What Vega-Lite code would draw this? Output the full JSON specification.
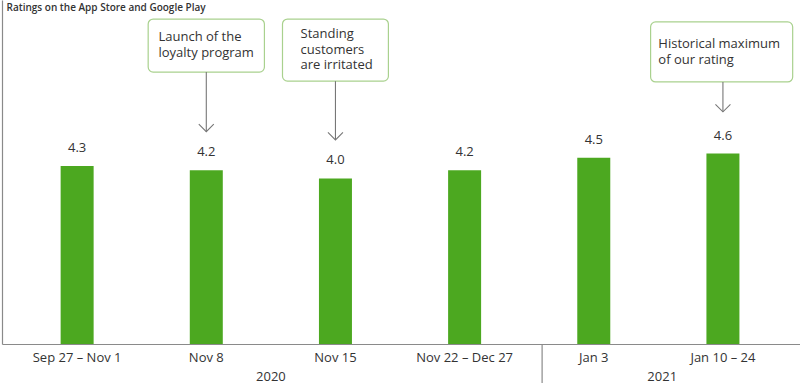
{
  "$schema": "https://vega.github.io/schema/vega-lite/v6.json",
  "width": 798,
  "height": 344,
  "autosize": {"type": "none"},
  "padding": {"left": 2, "top": 0, "right": 0, "bottom": 39},
  "background": "white",
  "config": {
    "view": {"stroke": null},
    "font": "Open Sans",
    "axis": {"grid": false, "ticks": false, "labels": false, "domainColor": "#8a8a8a", "domainWidth": 1.2}
  },
  "datasets": {
    "ratings": [
      {"idx": 0, "period": "Sep 27 – Nov 1", "rating": 4.3},
      {"idx": 1, "period": "Nov 8", "rating": 4.2},
      {"idx": 2, "period": "Nov 15", "rating": 4.0},
      {"idx": 3, "period": "Nov 22 – Dec 27", "rating": 4.2},
      {"idx": 4, "period": "Jan 3", "rating": 4.5},
      {"idx": 5, "period": "Jan 10 – 24", "rating": 4.6}
    ],
    "years": [
      {"year": "2020", "mid": 1.5},
      {"year": "2021", "mid": 4.53}
    ],
    "divider": [{"at": 3.6}],
    "notes": [
      {"idx": 1, "x0": 0.55, "x1": 1.45, "top": 7.85, "bottom": 6.57, "textx": 0.63, "texty": 7.31, "tip": 5.13, "note": "Launch of the\nloyalty program"},
      {"idx": 2, "x0": 1.59, "x1": 2.41, "top": 7.85, "bottom": 6.35, "textx": 1.73, "texty": 7.39, "tip": 4.93, "note": "Standing\ncustomers\nare irritated"},
      {"idx": 5, "x0": 4.44, "x1": 5.54, "top": 7.78, "bottom": 6.33, "textx": 4.5, "texty": 7.15, "tip": 5.61, "note": "Historical maximum\nof our rating"}
    ]
  },
  "layer": [
    {
      "data": {"name": "ratings"},
      "mark": {"type": "bar", "size": 33, "color": "#4ca820"},
      "encoding": {
        "x": {"field": "idx", "type": "quantitative", "scale": {"domain": [-0.543, 5.558], "nice": false, "zero": false},
              "axis": {"title": null}},
        "y": {"field": "rating", "type": "quantitative", "scale": {"domain": [0, 8.31], "nice": false},
              "axis": {"title": "Ratings on the App Store and Google Play", "titleAngle": 0, "titleAlign": "left", "titleAnchor": "start",
                       "titleX": 4, "titleY": 10.5, "titleBaseline": "alphabetic", "titleFontSize": 10, "titleFontWeight": 600,
                       "titleColor": "#333333", "titleFont": "Open Sans"}}
      }
    },
    {
      "data": {"name": "ratings"},
      "mark": {"type": "text", "dy": -14, "baseline": "alphabetic", "fontSize": 13, "color": "#333333"},
      "encoding": {
        "x": {"field": "idx", "type": "quantitative"},
        "y": {"field": "rating", "type": "quantitative"},
        "text": {"field": "rating", "type": "quantitative", "format": ".1f"}
      }
    },
    {
      "data": {"name": "ratings"},
      "mark": {"type": "text", "dy": 18, "baseline": "alphabetic", "fontSize": 13, "color": "#333333"},
      "encoding": {
        "x": {"field": "idx", "type": "quantitative"},
        "y": {"datum": 0, "type": "quantitative"},
        "text": {"field": "period"}
      }
    },
    {
      "data": {"name": "divider"},
      "mark": {"type": "rule", "color": "#8a8a8a", "strokeWidth": 1.2},
      "encoding": {
        "x": {"field": "at", "type": "quantitative"},
        "y": {"datum": 0, "type": "quantitative"},
        "y2": {"datum": -1}
      }
    },
    {
      "data": {"name": "years"},
      "mark": {"type": "text", "dy": 37, "baseline": "alphabetic", "fontSize": 13, "color": "#333333"},
      "encoding": {
        "x": {"field": "mid", "type": "quantitative"},
        "y": {"datum": 0, "type": "quantitative"},
        "text": {"field": "year"}
      }
    },
    {
      "data": {"name": "notes"},
      "mark": {"type": "rect", "fill": "white", "stroke": "#a9d18e", "strokeWidth": 1.2, "cornerRadius": 5},
      "encoding": {
        "x": {"field": "x0", "type": "quantitative"},
        "x2": {"field": "x1"},
        "y": {"field": "top", "type": "quantitative"},
        "y2": {"field": "bottom"}
      }
    },
    {
      "data": {"name": "notes"},
      "mark": {"type": "text", "align": "left", "baseline": "alphabetic", "fontSize": 13, "lineHeight": 15.5, "lineBreak": "\n", "color": "#333333"},
      "encoding": {
        "x": {"field": "textx", "type": "quantitative"},
        "y": {"field": "texty", "type": "quantitative"},
        "text": {"field": "note"}
      }
    },
    {
      "data": {"name": "notes"},
      "mark": {"type": "rule", "color": "#777777", "strokeWidth": 1.1},
      "encoding": {
        "x": {"field": "idx", "type": "quantitative"},
        "y": {"field": "bottom", "type": "quantitative"},
        "y2": {"field": "tip"}
      }
    },
    {
      "data": {"name": "notes"},
      "mark": {"type": "point", "shape": "M-1,-1L0,0L1,-1", "size": 225, "filled": false, "stroke": "#777777", "strokeWidth": 1.1, "opacity": 1},
      "encoding": {
        "x": {"field": "idx", "type": "quantitative"},
        "y": {"field": "tip", "type": "quantitative"}
      }
    }
  ]
}
